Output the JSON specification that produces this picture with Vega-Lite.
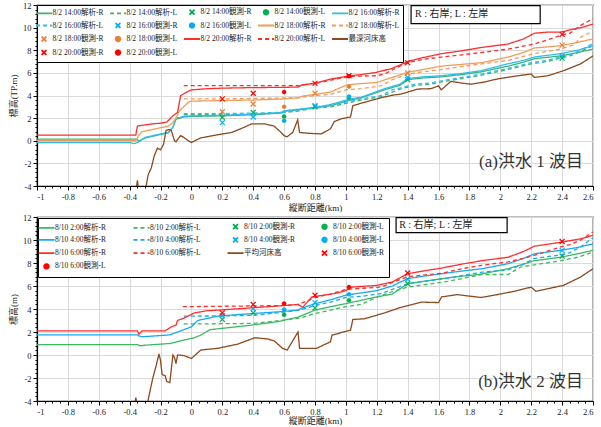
{
  "$schema": "https://vega.github.io/schema/vega-lite/v6.json",
  "background": "white",
  "padding": {"left": 8, "top": 0, "right": 8, "bottom": 0},
  "bounds": "flush",
  "spacing": 31,
  "config": {
    "font": "Liberation Serif, Noto Sans CJK JP",
    "view": {"stroke": "#000", "strokeWidth": 1.2},
    "axis": {
      "domainColor": "#000", "domainWidth": 1.2, "tickColor": "#000", "tickWidth": 1,
      "labelFont": "Liberation Serif, Noto Sans CJK JP", "labelFontSize": 8.5, "labelColor": "#222",
      "titleFont": "Liberation Serif, Noto Sans CJK JP", "titleFontSize": 9, "titleFontWeight": "normal", "titleColor": "#222",
      "gridColor": "#d9d9d9", "gridWidth": 1, "labelOverlap": false
    },
    "legend": {
      "labelFont": "Liberation Serif, Noto Sans CJK JP", "labelFontSize": 7.5, "labelColor": "#222",
      "strokeColor": "#000", "fillColor": "white", "padding": 2.5, "symbolStrokeWidth": 1.8, "symbolOpacity": 1,
      "direction": "horizontal"
    }
  },
  "datasets": {
    "a_lines": [
      {"series":"8/2 14:00解析-R","km":-1,"h":0.15},{"series":"8/2 14:00解析-R","km":-0.36,"h":0.15},{"series":"8/2 14:00解析-R","km":-0.34,"h":0.0},{"series":"8/2 14:00解析-R","km":-0.3,"h":0.25},{"series":"8/2 14:00解析-R","km":-0.25,"h":0.4},{"series":"8/2 14:00解析-R","km":-0.2,"h":0.55},{"series":"8/2 14:00解析-R","km":-0.15,"h":0.7},{"series":"8/2 14:00解析-R","km":-0.12,"h":1.2},{"series":"8/2 14:00解析-R","km":-0.1,"h":1.9},{"series":"8/2 14:00解析-R","km":-0.05,"h":2.1},{"series":"8/2 14:00解析-R","km":0,"h":2.15},{"series":"8/2 14:00解析-R","km":0.2,"h":2.2},{"series":"8/2 14:00解析-R","km":0.4,"h":2.3},{"series":"8/2 14:00解析-R","km":0.58,"h":2.45},{"series":"8/2 14:00解析-R","km":0.6,"h":2.6},{"series":"8/2 14:00解析-R","km":0.8,"h":2.9},{"series":"8/2 14:00解析-R","km":0.9,"h":3.1},{"series":"8/2 14:00解析-R","km":1.03,"h":3.6},{"series":"8/2 14:00解析-R","km":1.1,"h":3.8},{"series":"8/2 14:00解析-R","km":1.25,"h":4.5},{"series":"8/2 14:00解析-R","km":1.35,"h":4.9},{"series":"8/2 14:00解析-R","km":1.4,"h":5.4},{"series":"8/2 14:00解析-R","km":1.5,"h":5.55},{"series":"8/2 14:00解析-R","km":1.62,"h":5.65},{"series":"8/2 14:00解析-R","km":1.75,"h":5.85},{"series":"8/2 14:00解析-R","km":1.88,"h":6.1},{"series":"8/2 14:00解析-R","km":2.05,"h":6.6},{"series":"8/2 14:00解析-R","km":2.15,"h":6.95},{"series":"8/2 14:00解析-R","km":2.22,"h":7.25},{"series":"8/2 14:00解析-R","km":2.39,"h":7.5},{"series":"8/2 14:00解析-R","km":2.5,"h":7.8},{"series":"8/2 14:00解析-R","km":2.6,"h":8.1},

      {"series":"8/2 14:00解析-L","km":-0.05,"h":2.3},{"series":"8/2 14:00解析-L","km":0.2,"h":2.3},{"series":"8/2 14:00解析-L","km":0.4,"h":2.35},{"series":"8/2 14:00解析-L","km":0.58,"h":2.45},{"series":"8/2 14:00解析-L","km":0.7,"h":2.65},{"series":"8/2 14:00解析-L","km":0.8,"h":2.9},{"series":"8/2 14:00解析-L","km":0.9,"h":3.0},{"series":"8/2 14:00解析-L","km":1.0,"h":3.3},{"series":"8/2 14:00解析-L","km":1.1,"h":3.6},{"series":"8/2 14:00解析-L","km":1.23,"h":3.9},{"series":"8/2 14:00解析-L","km":1.3,"h":4.3},{"series":"8/2 14:00解析-L","km":1.36,"h":4.6},{"series":"8/2 14:00解析-L","km":1.45,"h":4.9},{"series":"8/2 14:00解析-L","km":1.55,"h":5.0},{"series":"8/2 14:00解析-L","km":1.62,"h":5.2},{"series":"8/2 14:00解析-L","km":1.75,"h":5.5},{"series":"8/2 14:00解析-L","km":1.88,"h":5.8},{"series":"8/2 14:00解析-L","km":2.05,"h":6.3},{"series":"8/2 14:00解析-L","km":2.2,"h":6.8},{"series":"8/2 14:00解析-L","km":2.3,"h":7.0},{"series":"8/2 14:00解析-L","km":2.39,"h":7.3},{"series":"8/2 14:00解析-L","km":2.45,"h":7.5},{"series":"8/2 14:00解析-L","km":2.52,"h":7.9},{"series":"8/2 14:00解析-L","km":2.6,"h":8.4},

      {"series":"8/2 16:00解析-R","km":-1,"h":-0.17},{"series":"8/2 16:00解析-R","km":-0.4,"h":-0.17},{"series":"8/2 16:00解析-R","km":-0.37,"h":-0.25},{"series":"8/2 16:00解析-R","km":-0.34,"h":-0.1},{"series":"8/2 16:00解析-R","km":-0.3,"h":0.3},{"series":"8/2 16:00解析-R","km":-0.25,"h":0.45},{"series":"8/2 16:00解析-R","km":-0.2,"h":0.6},{"series":"8/2 16:00解析-R","km":-0.15,"h":0.75},{"series":"8/2 16:00解析-R","km":-0.12,"h":1.2},{"series":"8/2 16:00解析-R","km":-0.1,"h":2.0},{"series":"8/2 16:00解析-R","km":-0.05,"h":2.15},{"series":"8/2 16:00解析-R","km":0,"h":2.2},{"series":"8/2 16:00解析-R","km":0.2,"h":2.25},{"series":"8/2 16:00解析-R","km":0.4,"h":2.35},{"series":"8/2 16:00解析-R","km":0.58,"h":2.5},{"series":"8/2 16:00解析-R","km":0.6,"h":2.65},{"series":"8/2 16:00解析-R","km":0.8,"h":2.95},{"series":"8/2 16:00解析-R","km":0.9,"h":3.2},{"series":"8/2 16:00解析-R","km":1.03,"h":3.7},{"series":"8/2 16:00解析-R","km":1.1,"h":3.85},{"series":"8/2 16:00解析-R","km":1.25,"h":4.6},{"series":"8/2 16:00解析-R","km":1.35,"h":5.0},{"series":"8/2 16:00解析-R","km":1.4,"h":5.5},{"series":"8/2 16:00解析-R","km":1.5,"h":5.65},{"series":"8/2 16:00解析-R","km":1.62,"h":5.75},{"series":"8/2 16:00解析-R","km":1.75,"h":5.95},{"series":"8/2 16:00解析-R","km":1.88,"h":6.2},{"series":"8/2 16:00解析-R","km":2.05,"h":6.8},{"series":"8/2 16:00解析-R","km":2.15,"h":7.1},{"series":"8/2 16:00解析-R","km":2.22,"h":7.4},{"series":"8/2 16:00解析-R","km":2.39,"h":7.7},{"series":"8/2 16:00解析-R","km":2.5,"h":8.0},{"series":"8/2 16:00解析-R","km":2.6,"h":8.4},

      {"series":"8/2 16:00解析-L","km":-0.05,"h":2.4},{"series":"8/2 16:00解析-L","km":0.2,"h":2.4},{"series":"8/2 16:00解析-L","km":0.4,"h":2.45},{"series":"8/2 16:00解析-L","km":0.58,"h":2.5},{"series":"8/2 16:00解析-L","km":0.7,"h":2.7},{"series":"8/2 16:00解析-L","km":0.8,"h":2.95},{"series":"8/2 16:00解析-L","km":0.9,"h":3.1},{"series":"8/2 16:00解析-L","km":1.0,"h":3.4},{"series":"8/2 16:00解析-L","km":1.1,"h":3.7},{"series":"8/2 16:00解析-L","km":1.23,"h":4.0},{"series":"8/2 16:00解析-L","km":1.3,"h":4.5},{"series":"8/2 16:00解析-L","km":1.36,"h":4.7},{"series":"8/2 16:00解析-L","km":1.45,"h":5.0},{"series":"8/2 16:00解析-L","km":1.55,"h":5.1},{"series":"8/2 16:00解析-L","km":1.62,"h":5.3},{"series":"8/2 16:00解析-L","km":1.75,"h":5.6},{"series":"8/2 16:00解析-L","km":1.88,"h":5.9},{"series":"8/2 16:00解析-L","km":2.05,"h":6.4},{"series":"8/2 16:00解析-L","km":2.2,"h":6.9},{"series":"8/2 16:00解析-L","km":2.3,"h":7.1},{"series":"8/2 16:00解析-L","km":2.39,"h":7.4},{"series":"8/2 16:00解析-L","km":2.45,"h":7.6},{"series":"8/2 16:00解析-L","km":2.52,"h":8.0},{"series":"8/2 16:00解析-L","km":2.6,"h":8.6},

      {"series":"8/2 18:00解析-R","km":-1,"h":0.0},{"series":"8/2 18:00解析-R","km":-0.36,"h":0.0},{"series":"8/2 18:00解析-R","km":-0.34,"h":0.5},{"series":"8/2 18:00解析-R","km":-0.32,"h":0.8},{"series":"8/2 18:00解析-R","km":-0.25,"h":1.0},{"series":"8/2 18:00解析-R","km":-0.2,"h":1.15},{"series":"8/2 18:00解析-R","km":-0.15,"h":1.3},{"series":"8/2 18:00解析-R","km":-0.12,"h":1.6},{"series":"8/2 18:00解析-R","km":-0.1,"h":2.0},{"series":"8/2 18:00解析-R","km":-0.08,"h":2.6},{"series":"8/2 18:00解析-R","km":-0.05,"h":3.0},{"series":"8/2 18:00解析-R","km":-0.02,"h":3.4},{"series":"8/2 18:00解析-R","km":0,"h":3.5},{"series":"8/2 18:00解析-R","km":0.2,"h":3.55},{"series":"8/2 18:00解析-R","km":0.4,"h":3.6},{"series":"8/2 18:00解析-R","km":0.6,"h":3.7},{"series":"8/2 18:00解析-R","km":0.69,"h":3.8},{"series":"8/2 18:00解析-R","km":0.72,"h":3.95},{"series":"8/2 18:00解析-R","km":0.8,"h":4.1},{"series":"8/2 18:00解析-R","km":0.9,"h":4.3},{"series":"8/2 18:00解析-R","km":1.0,"h":4.9},{"series":"8/2 18:00解析-R","km":1.05,"h":5.0},{"series":"8/2 18:00解析-R","km":1.2,"h":5.15},{"series":"8/2 18:00解析-R","km":1.3,"h":5.6},{"series":"8/2 18:00解析-R","km":1.4,"h":6.05},{"series":"8/2 18:00解析-R","km":1.5,"h":6.3},{"series":"8/2 18:00解析-R","km":1.62,"h":6.6},{"series":"8/2 18:00解析-R","km":1.75,"h":6.75},{"series":"8/2 18:00解析-R","km":1.88,"h":6.9},{"series":"8/2 18:00解析-R","km":2.05,"h":7.4},{"series":"8/2 18:00解析-R","km":2.15,"h":7.8},{"series":"8/2 18:00解析-R","km":2.22,"h":8.2},{"series":"8/2 18:00解析-R","km":2.39,"h":8.4},{"series":"8/2 18:00解析-R","km":2.5,"h":8.7},{"series":"8/2 18:00解析-R","km":2.6,"h":9.0},

      {"series":"8/2 18:00解析-L","km":-0.05,"h":3.7},{"series":"8/2 18:00解析-L","km":0.2,"h":3.7},{"series":"8/2 18:00解析-L","km":0.45,"h":3.75},{"series":"8/2 18:00解析-L","km":0.7,"h":3.8},{"series":"8/2 18:00解析-L","km":0.8,"h":4.0},{"series":"8/2 18:00解析-L","km":0.9,"h":4.1},{"series":"8/2 18:00解析-L","km":1.0,"h":4.5},{"series":"8/2 18:00解析-L","km":1.1,"h":4.6},{"series":"8/2 18:00解析-L","km":1.23,"h":4.87},{"series":"8/2 18:00解析-L","km":1.3,"h":5.4},{"series":"8/2 18:00解析-L","km":1.4,"h":5.9},{"series":"8/2 18:00解析-L","km":1.5,"h":6.1},{"series":"8/2 18:00解析-L","km":1.62,"h":6.3},{"series":"8/2 18:00解析-L","km":1.88,"h":6.8},{"series":"8/2 18:00解析-L","km":2.05,"h":7.1},{"series":"8/2 18:00解析-L","km":2.22,"h":7.7},{"series":"8/2 18:00解析-L","km":2.39,"h":8.1},{"series":"8/2 18:00解析-L","km":2.48,"h":8.5},{"series":"8/2 18:00解析-L","km":2.52,"h":9.15},{"series":"8/2 18:00解析-L","km":2.6,"h":9.7},

      {"series":"8/2 20:00解析-R","km":-1,"h":0.5},{"series":"8/2 20:00解析-R","km":-0.36,"h":0.5},{"series":"8/2 20:00解析-R","km":-0.35,"h":1.3},{"series":"8/2 20:00解析-R","km":-0.3,"h":1.4},{"series":"8/2 20:00解析-R","km":-0.25,"h":1.5},{"series":"8/2 20:00解析-R","km":-0.2,"h":1.55},{"series":"8/2 20:00解析-R","km":-0.16,"h":1.65},{"series":"8/2 20:00解析-R","km":-0.12,"h":2.2},{"series":"8/2 20:00解析-R","km":-0.09,"h":2.5},{"series":"8/2 20:00解析-R","km":-0.07,"h":4.0},{"series":"8/2 20:00解析-R","km":-0.03,"h":4.3},{"series":"8/2 20:00解析-R","km":0,"h":4.5},{"series":"8/2 20:00解析-R","km":0.1,"h":4.6},{"series":"8/2 20:00解析-R","km":0.2,"h":4.65},{"series":"8/2 20:00解析-R","km":0.4,"h":4.7},{"series":"8/2 20:00解析-R","km":0.6,"h":4.72},{"series":"8/2 20:00解析-R","km":0.69,"h":4.75},{"series":"8/2 20:00解析-R","km":0.72,"h":4.95},{"series":"8/2 20:00解析-R","km":0.8,"h":5.07},{"series":"8/2 20:00解析-R","km":0.9,"h":5.45},{"series":"8/2 20:00解析-R","km":1.03,"h":5.75},{"series":"8/2 20:00解析-R","km":1.1,"h":5.85},{"series":"8/2 20:00解析-R","km":1.2,"h":6.05},{"series":"8/2 20:00解析-R","km":1.3,"h":6.4},{"series":"8/2 20:00解析-R","km":1.4,"h":7.0},{"series":"8/2 20:00解析-R","km":1.5,"h":7.35},{"series":"8/2 20:00解析-R","km":1.62,"h":7.7},{"series":"8/2 20:00解析-R","km":1.75,"h":7.95},{"series":"8/2 20:00解析-R","km":1.88,"h":8.25},{"series":"8/2 20:00解析-R","km":2.05,"h":8.55},{"series":"8/2 20:00解析-R","km":2.15,"h":9.0},{"series":"8/2 20:00解析-R","km":2.22,"h":9.5},{"series":"8/2 20:00解析-R","km":2.3,"h":9.6},{"series":"8/2 20:00解析-R","km":2.39,"h":9.6},{"series":"8/2 20:00解析-R","km":2.45,"h":9.8},{"series":"8/2 20:00解析-R","km":2.52,"h":10.0},{"series":"8/2 20:00解析-R","km":2.6,"h":10.3},

      {"series":"8/2 20:00解析-L","km":-0.05,"h":4.87},{"series":"8/2 20:00解析-L","km":0.71,"h":4.87},{"series":"8/2 20:00解析-L","km":0.75,"h":5.0},{"series":"8/2 20:00解析-L","km":0.85,"h":5.2},{"series":"8/2 20:00解析-L","km":0.95,"h":5.5},{"series":"8/2 20:00解析-L","km":1.05,"h":5.7},{"series":"8/2 20:00解析-L","km":1.2,"h":5.75},{"series":"8/2 20:00解析-L","km":1.25,"h":5.9},{"series":"8/2 20:00解析-L","km":1.35,"h":6.6},{"series":"8/2 20:00解析-L","km":1.4,"h":6.9},{"series":"8/2 20:00解析-L","km":1.5,"h":7.2},{"series":"8/2 20:00解析-L","km":1.62,"h":7.4},{"series":"8/2 20:00解析-L","km":1.75,"h":7.6},{"series":"8/2 20:00解析-L","km":1.88,"h":7.8},{"series":"8/2 20:00解析-L","km":2.05,"h":8.1},{"series":"8/2 20:00解析-L","km":2.22,"h":8.55},{"series":"8/2 20:00解析-L","km":2.3,"h":8.9},{"series":"8/2 20:00解析-L","km":2.39,"h":9.3},{"series":"8/2 20:00解析-L","km":2.45,"h":9.5},{"series":"8/2 20:00解析-L","km":2.52,"h":10.2},{"series":"8/2 20:00解析-L","km":2.6,"h":10.8},

      {"series":"最深河床高","km":-0.36,"h":-4.5},{"series":"最深河床高","km":-0.35,"h":-3.5},{"series":"最深河床高","km":-0.34,"h":-4.5},{"series":"最深河床高","km":-0.3,"h":-4.5},{"series":"最深河床高","km":-0.28,"h":-3.0},{"series":"最深河床高","km":-0.26,"h":-2.4},{"series":"最深河床高","km":-0.24,"h":-1.3},{"series":"最深河床高","km":-0.22,"h":-0.65},{"series":"最深河床高","km":-0.2,"h":-0.8},{"series":"最深河床高","km":-0.18,"h":-0.3},{"series":"最深河床高","km":-0.165,"h":0.9},{"series":"最深河床高","km":-0.145,"h":1.0},{"series":"最深河床高","km":-0.13,"h":0.9},{"series":"最深河床高","km":-0.11,"h":0.0},{"series":"最深河床高","km":-0.1,"h":-0.1},{"series":"最深河床高","km":-0.085,"h":0.2},{"series":"最深河床高","km":-0.07,"h":0.45},{"series":"最深河床高","km":-0.05,"h":0.3},{"series":"最深河床高","km":-0.02,"h":0.0},{"series":"最深河床高","km":0,"h":-0.15},{"series":"最深河床高","km":0.06,"h":0.25},{"series":"最深河床高","km":0.17,"h":0.53},{"series":"最深河床高","km":0.26,"h":0.73},{"series":"最深河床高","km":0.34,"h":1.18},{"series":"最深河床高","km":0.39,"h":1.5},{"series":"最深河床高","km":0.47,"h":1.5},{"series":"最深河床高","km":0.535,"h":1.3},{"series":"最深河床高","km":0.58,"h":0.74},{"series":"最深河床高","km":0.6,"h":0.44},{"series":"最深河床高","km":0.62,"h":0.35},{"series":"最深河床高","km":0.656,"h":0.74},{"series":"最深河床高","km":0.688,"h":1.85},{"series":"最深河床高","km":0.7,"h":0.73},{"series":"最深河床高","km":0.77,"h":0.65},{"series":"最深河床高","km":0.84,"h":0.6},{"series":"最深河床高","km":0.9,"h":1.05},{"series":"最深河床高","km":0.925,"h":1.7},{"series":"最深河床高","km":0.97,"h":1.94},{"series":"最深河床高","km":1.03,"h":2.1},{"series":"最深河床高","km":1.045,"h":3.1},{"series":"最深河床高","km":1.12,"h":3.4},{"series":"最深河床高","km":1.2,"h":3.7},{"series":"最深河床高","km":1.29,"h":4.0},{"series":"最深河床高","km":1.357,"h":4.13},{"series":"最深河床高","km":1.466,"h":4.57},{"series":"最深河床高","km":1.55,"h":4.6},{"series":"最深河床高","km":1.6,"h":4.85},{"series":"最深河床高","km":1.617,"h":4.5},{"series":"最深河床高","km":1.68,"h":5.25},{"series":"最深河床高","km":1.75,"h":5.1},{"series":"最深河床高","km":1.81,"h":5.0},{"series":"最深河床高","km":1.9,"h":5.2},{"series":"最深河床高","km":1.98,"h":5.46},{"series":"最深河床高","km":2.09,"h":5.7},{"series":"最深河床高","km":2.2,"h":5.9},{"series":"最深河床高","km":2.22,"h":5.6},{"series":"最深河床高","km":2.31,"h":5.75},{"series":"最深河床高","km":2.41,"h":6.2},{"series":"最深河床高","km":2.52,"h":6.8},{"series":"最深河床高","km":2.6,"h":7.5}
    ],
    "a_obs": [
      {"series":"8/2 14:00観測-R","km":0.2,"h":2.06},{"series":"8/2 14:00観測-R","km":0.4,"h":2.5},{"series":"8/2 14:00観測-R","km":0.8,"h":3.0},{"series":"8/2 14:00観測-R","km":1.4,"h":5.4},{"series":"8/2 14:00観測-R","km":2.4,"h":7.3},
      {"series":"8/2 14:00観測-L","km":0.6,"h":2.15},{"series":"8/2 14:00観測-L","km":1.02,"h":3.8},
      {"series":"8/2 16:00観測-R","km":0.2,"h":1.6},{"series":"8/2 16:00観測-R","km":0.4,"h":2.1},{"series":"8/2 16:00観測-R","km":0.8,"h":3.1},{"series":"8/2 16:00観測-R","km":1.4,"h":5.6},{"series":"8/2 16:00観測-R","km":2.4,"h":7.5},
      {"series":"8/2 16:00観測-L","km":0.6,"h":1.77},{"series":"8/2 16:00観測-L","km":1.02,"h":3.9},
      {"series":"8/2 18:00観測-R","km":0.2,"h":2.57},{"series":"8/2 18:00観測-R","km":0.4,"h":3.25},{"series":"8/2 18:00観測-R","km":0.8,"h":4.2},{"series":"8/2 18:00観測-R","km":1.4,"h":6.0},{"series":"8/2 18:00観測-R","km":2.4,"h":8.45},
      {"series":"8/2 18:00観測-L","km":0.6,"h":3.0},{"series":"8/2 18:00観測-L","km":1.02,"h":4.8},
      {"series":"8/2 20:00観測-R","km":0.2,"h":3.7},{"series":"8/2 20:00観測-R","km":0.4,"h":4.2},{"series":"8/2 20:00観測-R","km":0.8,"h":5.07},{"series":"8/2 20:00観測-R","km":1.02,"h":5.75},{"series":"8/2 20:00観測-R","km":1.4,"h":6.9},{"series":"8/2 20:00観測-R","km":2.4,"h":9.4},
      {"series":"8/2 20:00観測-L","km":0.6,"h":4.3},{"series":"8/2 20:00観測-L","km":1.02,"h":5.7}
    ],
    "b_lines": [
      {"series":"8/10 2:00解析-R","km":-1,"h":0.9},{"series":"8/10 2:00解析-R","km":-0.35,"h":0.9},{"series":"8/10 2:00解析-R","km":-0.33,"h":0.8},{"series":"8/10 2:00解析-R","km":-0.3,"h":0.85},{"series":"8/10 2:00解析-R","km":-0.14,"h":1.0},{"series":"8/10 2:00解析-R","km":-0.05,"h":1.3},{"series":"8/10 2:00解析-R","km":0.02,"h":1.5},{"series":"8/10 2:00解析-R","km":0.06,"h":1.73},{"series":"8/10 2:00解析-R","km":0.12,"h":2.2},{"series":"8/10 2:00解析-R","km":0.39,"h":2.6},{"series":"8/10 2:00解析-R","km":0.56,"h":2.9},{"series":"8/10 2:00解析-R","km":0.69,"h":3.3},{"series":"8/10 2:00解析-R","km":0.8,"h":3.9},{"series":"8/10 2:00解析-R","km":0.9,"h":4.2},{"series":"8/10 2:00解析-R","km":1.0,"h":4.47},{"series":"8/10 2:00解析-R","km":1.2,"h":5.05},{"series":"8/10 2:00解析-R","km":1.3,"h":5.3},{"series":"8/10 2:00解析-R","km":1.4,"h":6.2},{"series":"8/10 2:00解析-R","km":1.5,"h":6.4},{"series":"8/10 2:00解析-R","km":1.62,"h":6.64},{"series":"8/10 2:00解析-R","km":1.75,"h":6.85},{"series":"8/10 2:00解析-R","km":1.86,"h":7.0},{"series":"8/10 2:00解析-R","km":2.05,"h":7.5},{"series":"8/10 2:00解析-R","km":2.15,"h":7.9},{"series":"8/10 2:00解析-R","km":2.22,"h":8.2},{"series":"8/10 2:00解析-R","km":2.39,"h":8.5},{"series":"8/10 2:00解析-R","km":2.5,"h":8.8},{"series":"8/10 2:00解析-R","km":2.6,"h":9.1},

      {"series":"8/10 2:00解析-L","km":-0.05,"h":2.7},{"series":"8/10 2:00解析-L","km":0.2,"h":2.72},{"series":"8/10 2:00解析-L","km":0.4,"h":2.75},{"series":"8/10 2:00解析-L","km":0.58,"h":3.0},{"series":"8/10 2:00解析-L","km":0.7,"h":3.2},{"series":"8/10 2:00解析-L","km":0.8,"h":3.6},{"series":"8/10 2:00解析-L","km":0.9,"h":3.9},{"series":"8/10 2:00解析-L","km":1.0,"h":4.2},{"series":"8/10 2:00解析-L","km":1.1,"h":4.4},{"series":"8/10 2:00解析-L","km":1.23,"h":5.2},{"series":"8/10 2:00解析-L","km":1.3,"h":5.5},{"series":"8/10 2:00解析-L","km":1.4,"h":5.9},{"series":"8/10 2:00解析-L","km":1.5,"h":6.1},{"series":"8/10 2:00解析-L","km":1.66,"h":6.4},{"series":"8/10 2:00解析-L","km":1.88,"h":7.0},{"series":"8/10 2:00解析-L","km":2.05,"h":7.0},{"series":"8/10 2:00解析-L","km":2.13,"h":7.65},{"series":"8/10 2:00解析-L","km":2.25,"h":7.9},{"series":"8/10 2:00解析-L","km":2.39,"h":8.2},{"series":"8/10 2:00解析-L","km":2.5,"h":8.5},{"series":"8/10 2:00解析-L","km":2.6,"h":8.95},

      {"series":"8/10 4:00解析-R","km":-1,"h":1.75},{"series":"8/10 4:00解析-R","km":-0.35,"h":1.75},{"series":"8/10 4:00解析-R","km":-0.34,"h":1.65},{"series":"8/10 4:00解析-R","km":-0.32,"h":1.6},{"series":"8/10 4:00解析-R","km":-0.3,"h":1.6},{"series":"8/10 4:00解析-R","km":-0.14,"h":1.75},{"series":"8/10 4:00解析-R","km":-0.07,"h":2.1},{"series":"8/10 4:00解析-R","km":0,"h":2.45},{"series":"8/10 4:00解析-R","km":0.04,"h":3.0},{"series":"8/10 4:00解析-R","km":0.17,"h":3.38},{"series":"8/10 4:00解析-R","km":0.39,"h":3.6},{"series":"8/10 4:00解析-R","km":0.56,"h":3.75},{"series":"8/10 4:00解析-R","km":0.69,"h":3.9},{"series":"8/10 4:00解析-R","km":0.72,"h":4.1},{"series":"8/10 4:00解析-R","km":0.8,"h":4.47},{"series":"8/10 4:00解析-R","km":0.9,"h":4.8},{"series":"8/10 4:00解析-R","km":1.0,"h":5.2},{"series":"8/10 4:00解析-R","km":1.2,"h":5.6},{"series":"8/10 4:00解析-R","km":1.3,"h":6.0},{"series":"8/10 4:00解析-R","km":1.4,"h":6.64},{"series":"8/10 4:00解析-R","km":1.5,"h":6.85},{"series":"8/10 4:00解析-R","km":1.62,"h":7.07},{"series":"8/10 4:00解析-R","km":1.75,"h":7.3},{"series":"8/10 4:00解析-R","km":1.88,"h":7.5},{"series":"8/10 4:00解析-R","km":2.05,"h":7.94},{"series":"8/10 4:00解析-R","km":2.15,"h":8.4},{"series":"8/10 4:00解析-R","km":2.22,"h":8.8},{"series":"8/10 4:00解析-R","km":2.39,"h":9.1},{"series":"8/10 4:00解析-R","km":2.5,"h":9.35},{"series":"8/10 4:00解析-R","km":2.6,"h":9.67},

      {"series":"8/10 4:00解析-L","km":-0.05,"h":3.38},{"series":"8/10 4:00解析-L","km":0.2,"h":3.4},{"series":"8/10 4:00解析-L","km":0.4,"h":3.45},{"series":"8/10 4:00解析-L","km":0.58,"h":3.7},{"series":"8/10 4:00解析-L","km":0.7,"h":3.9},{"series":"8/10 4:00解析-L","km":0.8,"h":4.3},{"series":"8/10 4:00解析-L","km":0.9,"h":4.6},{"series":"8/10 4:00解析-L","km":1.0,"h":5.0},{"series":"8/10 4:00解析-L","km":1.1,"h":5.1},{"series":"8/10 4:00解析-L","km":1.23,"h":5.35},{"series":"8/10 4:00解析-L","km":1.3,"h":5.7},{"series":"8/10 4:00解析-L","km":1.4,"h":6.2},{"series":"8/10 4:00解析-L","km":1.5,"h":6.4},{"series":"8/10 4:00解析-L","km":1.62,"h":6.6},{"series":"8/10 4:00解析-L","km":1.75,"h":6.9},{"series":"8/10 4:00解析-L","km":1.88,"h":7.2},{"series":"8/10 4:00解析-L","km":2.05,"h":7.4},{"series":"8/10 4:00解析-L","km":2.15,"h":7.9},{"series":"8/10 4:00解析-L","km":2.22,"h":8.4},{"series":"8/10 4:00解析-L","km":2.39,"h":8.7},{"series":"8/10 4:00解析-L","km":2.45,"h":8.9},{"series":"8/10 4:00解析-L","km":2.52,"h":9.4},{"series":"8/10 4:00解析-L","km":2.6,"h":10.2},

      {"series":"8/10 6:00解析-R","km":-1,"h":2.1},{"series":"8/10 6:00解析-R","km":-0.35,"h":2.1},{"series":"8/10 6:00解析-R","km":-0.34,"h":1.8},{"series":"8/10 6:00解析-R","km":-0.32,"h":2.1},{"series":"8/10 6:00解析-R","km":-0.17,"h":2.1},{"series":"8/10 6:00解析-R","km":-0.13,"h":2.45},{"series":"8/10 6:00解析-R","km":-0.1,"h":2.6},{"series":"8/10 6:00解析-R","km":-0.09,"h":3.0},{"series":"8/10 6:00解析-R","km":-0.05,"h":3.2},{"series":"8/10 6:00解析-R","km":-0.02,"h":3.4},{"series":"8/10 6:00解析-R","km":0.02,"h":3.66},{"series":"8/10 6:00解析-R","km":0.1,"h":3.85},{"series":"8/10 6:00解析-R","km":0.17,"h":3.9},{"series":"8/10 6:00解析-R","km":0.39,"h":4.1},{"series":"8/10 6:00解析-R","km":0.6,"h":4.3},{"series":"8/10 6:00解析-R","km":0.69,"h":4.4},{"series":"8/10 6:00解析-R","km":0.72,"h":4.15},{"series":"8/10 6:00解析-R","km":0.78,"h":5.05},{"series":"8/10 6:00解析-R","km":0.93,"h":5.35},{"series":"8/10 6:00解析-R","km":1.0,"h":5.6},{"series":"8/10 6:00解析-R","km":1.03,"h":5.9},{"series":"8/10 6:00解析-R","km":1.2,"h":6.05},{"series":"8/10 6:00解析-R","km":1.3,"h":6.35},{"series":"8/10 6:00解析-R","km":1.4,"h":7.07},{"series":"8/10 6:00解析-R","km":1.5,"h":7.3},{"series":"8/10 6:00解析-R","km":1.62,"h":7.56},{"series":"8/10 6:00解析-R","km":1.75,"h":7.9},{"series":"8/10 6:00解析-R","km":1.88,"h":8.2},{"series":"8/10 6:00解析-R","km":2.05,"h":8.5},{"series":"8/10 6:00解析-R","km":2.15,"h":9.0},{"series":"8/10 6:00解析-R","km":2.22,"h":9.46},{"series":"8/10 6:00解析-R","km":2.39,"h":9.8},{"series":"8/10 6:00解析-R","km":2.52,"h":10.1},{"series":"8/10 6:00解析-R","km":2.6,"h":10.4},

      {"series":"8/10 6:00解析-L","km":-0.056,"h":4.2},{"series":"8/10 6:00解析-L","km":0.3,"h":4.25},{"series":"8/10 6:00解析-L","km":0.58,"h":4.3},{"series":"8/10 6:00解析-L","km":0.69,"h":4.4},{"series":"8/10 6:00解析-L","km":0.75,"h":4.7},{"series":"8/10 6:00解析-L","km":0.8,"h":5.0},{"series":"8/10 6:00解析-L","km":0.9,"h":5.3},{"series":"8/10 6:00解析-L","km":1.0,"h":5.7},{"series":"8/10 6:00解析-L","km":1.1,"h":5.8},{"series":"8/10 6:00解析-L","km":1.23,"h":5.9},{"series":"8/10 6:00解析-L","km":1.3,"h":6.3},{"series":"8/10 6:00解析-L","km":1.4,"h":6.8},{"series":"8/10 6:00解析-L","km":1.5,"h":6.95},{"series":"8/10 6:00解析-L","km":1.62,"h":7.1},{"series":"8/10 6:00解析-L","km":1.75,"h":7.5},{"series":"8/10 6:00解析-L","km":1.88,"h":7.8},{"series":"8/10 6:00解析-L","km":2.05,"h":8.1},{"series":"8/10 6:00解析-L","km":2.15,"h":8.4},{"series":"8/10 6:00解析-L","km":2.22,"h":8.66},{"series":"8/10 6:00解析-L","km":2.39,"h":9.4},{"series":"8/10 6:00解析-L","km":2.45,"h":9.6},{"series":"8/10 6:00解析-L","km":2.52,"h":10.0},{"series":"8/10 6:00解析-L","km":2.6,"h":10.7},

      {"series":"平均河床高","km":-0.37,"h":-4.5},{"series":"平均河床高","km":-0.36,"h":-3.7},{"series":"平均河床高","km":-0.35,"h":-4.5},{"series":"平均河床高","km":-0.29,"h":-4.5},{"series":"平均河床高","km":-0.25,"h":-2.0},{"series":"平均河床高","km":-0.23,"h":-1.0},{"series":"平均河床高","km":-0.21,"h":0.1},{"series":"平均河床高","km":-0.2,"h":-0.5},{"series":"平均河床高","km":-0.19,"h":-1.7},{"series":"平均河床高","km":-0.17,"h":-1.8},{"series":"平均河床高","km":-0.16,"h":-2.3},{"series":"平均河床高","km":-0.14,"h":-2.4},{"series":"平均河床高","km":-0.12,"h":0.0},{"series":"平均河床高","km":-0.11,"h":-0.2},{"series":"平均河床高","km":-0.1,"h":-0.75},{"series":"平均河床高","km":-0.09,"h":0.0},{"series":"平均河床高","km":-0.05,"h":-0.05},{"series":"平均河床高","km":0,"h":-0.3},{"series":"平均河床高","km":0.06,"h":0.43},{"series":"平均河床高","km":0.17,"h":0.58},{"series":"平均河床高","km":0.3,"h":0.95},{"series":"平均河床高","km":0.41,"h":1.5},{"series":"平均河床高","km":0.49,"h":1.4},{"series":"平均河床高","km":0.535,"h":1.24},{"series":"平均河床高","km":0.59,"h":0.58},{"series":"平均河床高","km":0.62,"h":0.43},{"series":"平均河床高","km":0.69,"h":2.0},{"series":"平均河床高","km":0.7,"h":0.58},{"series":"平均河床高","km":0.81,"h":0.58},{"series":"平均河床高","km":0.9,"h":1.15},{"series":"平均河床高","km":0.91,"h":1.73},{"series":"平均河床高","km":1.03,"h":2.16},{"series":"平均河床高","km":1.045,"h":3.09},{"series":"平均河床高","km":1.12,"h":3.15},{"series":"平均河床高","km":1.25,"h":3.66},{"series":"平均河床高","km":1.357,"h":4.15},{"series":"平均河床高","km":1.49,"h":4.6},{"series":"平均河床高","km":1.6,"h":4.56},{"series":"平均河床高","km":1.62,"h":5.05},{"series":"平均河床高","km":1.72,"h":5.25},{"series":"平均河床高","km":1.876,"h":5.0},{"series":"平均河床高","km":1.96,"h":5.2},{"series":"平均河床高","km":2.09,"h":5.54},{"series":"平均河床高","km":2.2,"h":5.9},{"series":"平均河床高","km":2.23,"h":5.54},{"series":"平均河床高","km":2.41,"h":6.06},{"series":"平均河床高","km":2.52,"h":6.78},{"series":"平均河床高","km":2.6,"h":7.5}
    ],
    "b_obs": [
      {"series":"8/10 2:00観測-R","km":0.2,"h":3.1},{"series":"8/10 2:00観測-R","km":0.4,"h":3.66},{"series":"8/10 2:00観測-R","km":0.8,"h":4.1},{"series":"8/10 2:00観測-R","km":1.4,"h":6.2},{"series":"8/10 2:00観測-R","km":2.4,"h":8.6},
      {"series":"8/10 2:00観測-L","km":0.6,"h":3.5},{"series":"8/10 2:00観測-L","km":1.02,"h":4.76},
      {"series":"8/10 4:00観測-R","km":0.2,"h":3.43},{"series":"8/10 4:00観測-R","km":0.4,"h":4.04},{"series":"8/10 4:00観測-R","km":0.8,"h":4.56},{"series":"8/10 4:00観測-R","km":1.4,"h":6.6},{"series":"8/10 4:00観測-R","km":2.4,"h":9.1},
      {"series":"8/10 4:00観測-L","km":0.6,"h":3.95},{"series":"8/10 4:00観測-L","km":1.02,"h":5.28},
      {"series":"8/10 6:00観測-R","km":0.2,"h":3.66},{"series":"8/10 6:00観測-R","km":0.4,"h":4.39},{"series":"8/10 6:00観測-R","km":0.8,"h":5.2},{"series":"8/10 6:00観測-R","km":1.4,"h":7.13},{"series":"8/10 6:00観測-R","km":2.4,"h":9.87},
      {"series":"8/10 6:00観測-L","km":0.6,"h":4.47},{"series":"8/10 6:00観測-L","km":1.02,"h":5.9}
    ]
  },
  "vconcat": [
    {
      "width": 556,
      "height": 181,
      "layer": [
        {
          "data": {"name": "a_lines"},
          "mark": {"type": "line", "strokeWidth": 1.3, "clip": true},
          "encoding": {
            "x": {
              "field": "km", "type": "quantitative", "title": "縦断距離(km)",
              "scale": {"domain": [-1, 2.6], "nice": false, "zero": false},
              "axis": {
                "values": [-1,-0.95,-0.9,-0.85,-0.8,-0.75,-0.7,-0.65,-0.6,-0.55,-0.5,-0.45,-0.4,-0.35,-0.3,-0.25,-0.2,-0.15,-0.1,-0.05,0,0.05,0.1,0.15,0.2,0.25,0.3,0.35,0.4,0.45,0.5,0.55,0.6,0.65,0.7,0.75,0.8,0.85,0.9,0.95,1,1.05,1.1,1.15,1.2,1.25,1.3,1.35,1.4,1.45,1.5,1.55,1.6,1.65,1.7,1.75,1.8,1.85,1.9,1.95,2,2.05,2.1,2.15,2.2,2.25,2.3,2.35,2.4,2.45,2.5,2.55,2.6],
                "tickCount": 500,
                "labelExpr": "abs(datum.value*5-round(datum.value*5))<0.001 ? replace(format(datum.value,'~g'),'−','-') : ''",
                "tickSize": {"condition": {"test": "abs(datum.value*5-round(datum.value*5))<0.001", "value": 4}, "value": 2},
                "gridOpacity": {"condition": {"test": "abs(datum.value*5-round(datum.value*5))<0.001", "value": 1}, "value": 0},
                "labelOverlap": false, "labelPadding": 2, "titlePadding": 3
              }
            },
            "y": {
              "field": "h", "type": "quantitative", "title": "標高(TP.m)",
              "scale": {"domain": [-4, 12], "nice": false, "zero": false},
              "axis": {
                "values": [-4,-3.6,-3.2,-2.8,-2.4,-2,-1.6,-1.2,-0.8,-0.4,0,0.4,0.8,1.2,1.6,2,2.4,2.8,3.2,3.6,4,4.4,4.8,5.2,5.6,6,6.4,6.8,7.2,7.6,8,8.4,8.8,9.2,9.6,10,10.4,10.8,11.2,11.6,12],
                "tickCount": 500,
                "labelExpr": "abs(datum.value/2-round(datum.value/2))<0.001 ? replace(format(datum.value,'~g'),'−','-') : ''",
                "tickSize": {"condition": {"test": "abs(datum.value/2-round(datum.value/2))<0.001", "value": 4}, "value": 2},
                "gridOpacity": {"condition": {"test": "abs(datum.value/2-round(datum.value/2))<0.001", "value": 1}, "value": 0},
                "labelOverlap": false, "labelPadding": 2, "titlePadding": 4
              }
            },
            "color": {
              "field": "series", "type": "nominal",
              "scale": {
                "domain": ["8/2 14:00解析-R","8/2 14:00解析-L","8/2 14:00観測-R","8/2 14:00観測-L","8/2 16:00解析-R","8/2 16:00解析-L","8/2 16:00観測-R","8/2 16:00観測-L","8/2 18:00解析-R","8/2 18:00解析-L","8/2 18:00観測-R","8/2 18:00観測-L","8/2 20:00解析-R","8/2 20:00解析-L","最深河床高","8/2 20:00観測-R","8/2 20:00観測-L"],
                "range": ["#3cb371","#3cb371","#00b050","#00b050","#2fbdf0","#2fbdf0","#00b0f0","#00b0f0","#f39c5a","#f39c5a","#ed7d31","#ed7d31","#ff2d2d","#ff2d2d","#8c4a1e","#ff0000","#ff0000"]
              },
              "legend": {"title": null, "orient": "top-left", "offset": 0, "direction": "horizontal", "columns": 5, "columnPadding": 1, "rowPadding": 0.5, "symbolSize": 50, "labelOffset": 4, "labelLimit": 300}
            },
            "strokeDash": {
              "field": "series", "type": "nominal",
              "scale": {
                "domain": ["8/2 14:00解析-R","8/2 14:00解析-L","8/2 14:00観測-R","8/2 14:00観測-L","8/2 16:00解析-R","8/2 16:00解析-L","8/2 16:00観測-R","8/2 16:00観測-L","8/2 18:00解析-R","8/2 18:00解析-L","8/2 18:00観測-R","8/2 18:00観測-L","8/2 20:00解析-R","8/2 20:00解析-L","最深河床高","8/2 20:00観測-R","8/2 20:00観測-L"],
                "range": [[1,0],[4,3],[1,0],[1,0],[1,0],[4,3],[1,0],[1,0],[1,0],[4,3],[1,0],[1,0],[1,0],[4,3],[1,0],[1,0],[1,0]]
              },
              "legend": {"title": null, "orient": "top-left", "offset": 0, "direction": "horizontal", "columns": 5, "columnPadding": 1, "rowPadding": 0.5, "symbolSize": 50, "labelOffset": 4, "labelLimit": 300}
            },
            "order": {"field": "km", "type": "quantitative"}
          }
        },
        {
          "data": {"name": "a_obs"},
          "transform": [{"filter": "indexof(datum.series,'観測-R')>=0"}],
          "mark": {"type": "point", "size": 50, "strokeWidth": 1.2, "filled": false, "opacity": 1},
          "encoding": {
            "x": {"field": "km", "type": "quantitative"},
            "y": {"field": "h", "type": "quantitative"},
            "color": {"field": "series", "type": "nominal"},
            "shape": {
              "field": "series", "type": "nominal",
              "scale": {
                "domain": ["8/2 14:00解析-R","8/2 14:00解析-L","8/2 14:00観測-R","8/2 14:00観測-L","8/2 16:00解析-R","8/2 16:00解析-L","8/2 16:00観測-R","8/2 16:00観測-L","8/2 18:00解析-R","8/2 18:00解析-L","8/2 18:00観測-R","8/2 18:00観測-L","8/2 20:00解析-R","8/2 20:00解析-L","最深河床高","8/2 20:00観測-R","8/2 20:00観測-L"],
                "range": ["M-2.26,0L2.26,0","M-2.26,0L2.26,0","M-0.7,-0.7L0.7,0.7M-0.7,0.7L0.7,-0.7","M-0.65,0A0.65,0.65 0 1,1 0.65,0A0.65,0.65 0 1,1 -0.65,0Z","M-2.26,0L2.26,0","M-2.26,0L2.26,0","M-0.7,-0.7L0.7,0.7M-0.7,0.7L0.7,-0.7","M-0.65,0A0.65,0.65 0 1,1 0.65,0A0.65,0.65 0 1,1 -0.65,0Z","M-2.26,0L2.26,0","M-2.26,0L2.26,0","M-0.7,-0.7L0.7,0.7M-0.7,0.7L0.7,-0.7","M-0.65,0A0.65,0.65 0 1,1 0.65,0A0.65,0.65 0 1,1 -0.65,0Z","M-2.26,0L2.26,0","M-2.26,0L2.26,0","M-2.26,0L2.26,0","M-0.7,-0.7L0.7,0.7M-0.7,0.7L0.7,-0.7","M-0.65,0A0.65,0.65 0 1,1 0.65,0A0.65,0.65 0 1,1 -0.65,0Z"]
              },
              "legend": {"title": null, "orient": "top-left", "offset": 0, "direction": "horizontal", "columns": 5, "columnPadding": 1, "rowPadding": 0.5, "symbolSize": 50, "labelOffset": 4, "labelLimit": 300}
            }
          }
        },
        {
          "data": {"name": "a_obs"},
          "transform": [{"filter": "indexof(datum.series,'観測-L')>=0"}],
          "mark": {"type": "point", "size": 50, "filled": true, "opacity": 1},
          "encoding": {
            "x": {"field": "km", "type": "quantitative"},
            "y": {"field": "h", "type": "quantitative"},
            "color": {"field": "series", "type": "nominal"},
            "shape": {"field": "series", "type": "nominal"}
          }
        },
        {
          "data": {"values": [{}]},
          "mark": {"type": "rect", "fill": "white", "stroke": "#000", "strokeWidth": 1.2},
          "encoding": {
            "x": {"datum": 1.422, "type": "quantitative"},
            "x2": {"datum": 2.258},
            "y": {"datum": 11.95, "type": "quantitative"},
            "y2": {"datum": 10.35}
          }
        },
        {
          "data": {"values": [{}]},
          "mark": {"type": "text", "text": "R : 右岸; L : 左岸", "align": "left", "baseline": "middle", "fontSize": 10, "color": "#222"},
          "encoding": {
            "x": {"datum": 1.448, "type": "quantitative"},
            "y": {"datum": 11.2, "type": "quantitative"}
          }
        },
        {
          "data": {"values": [{}]},
          "mark": {"type": "text", "text": "(a)洪水 1 波目", "align": "right", "baseline": "middle", "fontSize": 17, "color": "#333"},
          "encoding": {
            "x": {"datum": 2.535, "type": "quantitative"},
            "y": {"datum": -1.86, "type": "quantitative"}
          }
        }
      ]
    },
    {
      "width": 556,
      "height": 184,
      "layer": [
        {
          "data": {"name": "b_lines"},
          "mark": {"type": "line", "strokeWidth": 1.3, "clip": true},
          "encoding": {
            "x": {
              "field": "km", "type": "quantitative", "title": "縦断距離(km)",
              "scale": {"domain": [-1, 2.6], "nice": false, "zero": false},
              "axis": {
                "values": [-1,-0.95,-0.9,-0.85,-0.8,-0.75,-0.7,-0.65,-0.6,-0.55,-0.5,-0.45,-0.4,-0.35,-0.3,-0.25,-0.2,-0.15,-0.1,-0.05,0,0.05,0.1,0.15,0.2,0.25,0.3,0.35,0.4,0.45,0.5,0.55,0.6,0.65,0.7,0.75,0.8,0.85,0.9,0.95,1,1.05,1.1,1.15,1.2,1.25,1.3,1.35,1.4,1.45,1.5,1.55,1.6,1.65,1.7,1.75,1.8,1.85,1.9,1.95,2,2.05,2.1,2.15,2.2,2.25,2.3,2.35,2.4,2.45,2.5,2.55,2.6],
                "tickCount": 500,
                "labelExpr": "abs(datum.value*5-round(datum.value*5))<0.001 ? replace(format(datum.value,'~g'),'−','-') : ''",
                "tickSize": {"condition": {"test": "abs(datum.value*5-round(datum.value*5))<0.001", "value": 4}, "value": 2},
                "gridOpacity": {"condition": {"test": "abs(datum.value*5-round(datum.value*5))<0.001", "value": 1}, "value": 0},
                "labelOverlap": false, "labelPadding": 2, "titlePadding": 1
              }
            },
            "y": {
              "field": "h", "type": "quantitative", "title": "標高(m)",
              "scale": {"domain": [-4, 12], "nice": false, "zero": false},
              "axis": {
                "values": [-4,-3.6,-3.2,-2.8,-2.4,-2,-1.6,-1.2,-0.8,-0.4,0,0.4,0.8,1.2,1.6,2,2.4,2.8,3.2,3.6,4,4.4,4.8,5.2,5.6,6,6.4,6.8,7.2,7.6,8,8.4,8.8,9.2,9.6,10,10.4,10.8,11.2,11.6,12],
                "tickCount": 500,
                "labelExpr": "abs(datum.value/2-round(datum.value/2))<0.001 ? replace(format(datum.value,'~g'),'−','-') : ''",
                "tickSize": {"condition": {"test": "abs(datum.value/2-round(datum.value/2))<0.001", "value": 4}, "value": 2},
                "gridOpacity": {"condition": {"test": "abs(datum.value/2-round(datum.value/2))<0.001", "value": 1}, "value": 0},
                "labelOverlap": false, "labelPadding": 2, "titlePadding": 4
              }
            },
            "color": {
              "field": "series", "type": "nominal",
              "scale": {
                "domain": ["8/10 2:00解析-R","8/10 2:00解析-L","8/10 2:00観測-R","8/10 2:00観測-L","8/10 4:00解析-R","8/10 4:00解析-L","8/10 4:00観測-R","8/10 4:00観測-L","8/10 6:00解析-R","8/10 6:00解析-L","平均河床高","8/10 6:00観測-R","8/10 6:00観測-L"],
                "range": ["#3cba63","#3cba63","#00b050","#00b050","#14aaf0","#14aaf0","#00b0f0","#00b0f0","#ff2d2d","#ff2d2d","#8c4a1e","#ff0000","#ff0000"]
              },
              "legend": {"title": null, "orient": "top-left", "offset": 1, "direction": "horizontal", "columns": 4, "columnPadding": 22, "rowPadding": 0.3, "symbolSize": 50, "labelOffset": 4, "labelLimit": 300, "padding": 4}
            },
            "strokeDash": {
              "field": "series", "type": "nominal",
              "scale": {
                "domain": ["8/10 2:00解析-R","8/10 2:00解析-L","8/10 2:00観測-R","8/10 2:00観測-L","8/10 4:00解析-R","8/10 4:00解析-L","8/10 4:00観測-R","8/10 4:00観測-L","8/10 6:00解析-R","8/10 6:00解析-L","平均河床高","8/10 6:00観測-R","8/10 6:00観測-L"],
                "range": [[1,0],[4,3],[1,0],[1,0],[1,0],[4,3],[1,0],[1,0],[1,0],[4,3],[1,0],[1,0],[1,0]]
              },
              "legend": {"title": null, "orient": "top-left", "offset": 1, "direction": "horizontal", "columns": 4, "columnPadding": 22, "rowPadding": 0.3, "symbolSize": 50, "labelOffset": 4, "labelLimit": 300, "padding": 4}
            },
            "order": {"field": "km", "type": "quantitative"}
          }
        },
        {
          "data": {"name": "b_obs"},
          "transform": [{"filter": "indexof(datum.series,'観測-R')>=0"}],
          "mark": {"type": "point", "size": 50, "strokeWidth": 1.2, "filled": false, "opacity": 1},
          "encoding": {
            "x": {"field": "km", "type": "quantitative"},
            "y": {"field": "h", "type": "quantitative"},
            "color": {"field": "series", "type": "nominal"},
            "shape": {
              "field": "series", "type": "nominal",
              "scale": {
                "domain": ["8/10 2:00解析-R","8/10 2:00解析-L","8/10 2:00観測-R","8/10 2:00観測-L","8/10 4:00解析-R","8/10 4:00解析-L","8/10 4:00観測-R","8/10 4:00観測-L","8/10 6:00解析-R","8/10 6:00解析-L","平均河床高","8/10 6:00観測-R","8/10 6:00観測-L"],
                "range": ["M-2.26,0L2.26,0","M-2.26,0L2.26,0","M-0.7,-0.7L0.7,0.7M-0.7,0.7L0.7,-0.7","M-0.65,0A0.65,0.65 0 1,1 0.65,0A0.65,0.65 0 1,1 -0.65,0Z","M-2.26,0L2.26,0","M-2.26,0L2.26,0","M-0.7,-0.7L0.7,0.7M-0.7,0.7L0.7,-0.7","M-0.65,0A0.65,0.65 0 1,1 0.65,0A0.65,0.65 0 1,1 -0.65,0Z","M-2.26,0L2.26,0","M-2.26,0L2.26,0","M-2.26,0L2.26,0","M-0.7,-0.7L0.7,0.7M-0.7,0.7L0.7,-0.7","M-0.65,0A0.65,0.65 0 1,1 0.65,0A0.65,0.65 0 1,1 -0.65,0Z"]
              },
              "legend": {"title": null, "orient": "top-left", "offset": 1, "direction": "horizontal", "columns": 4, "columnPadding": 22, "rowPadding": 0.3, "symbolSize": 50, "labelOffset": 4, "labelLimit": 300, "padding": 4}
            }
          }
        },
        {
          "data": {"name": "b_obs"},
          "transform": [{"filter": "indexof(datum.series,'観測-L')>=0"}],
          "mark": {"type": "point", "size": 50, "filled": true, "opacity": 1},
          "encoding": {
            "x": {"field": "km", "type": "quantitative"},
            "y": {"field": "h", "type": "quantitative"},
            "color": {"field": "series", "type": "nominal"},
            "shape": {"field": "series", "type": "nominal"}
          }
        },
        {
          "data": {"values": [{}]},
          "mark": {"type": "rect", "fill": "white", "stroke": "#000", "strokeWidth": 1.2},
          "encoding": {
            "x": {"datum": 1.325, "type": "quantitative"},
            "x2": {"datum": 2.044},
            "y": {"datum": 11.95, "type": "quantitative"},
            "y2": {"datum": 10.65}
          }
        },
        {
          "data": {"values": [{}]},
          "mark": {"type": "text", "text": "R : 右岸; L : 左岸", "align": "left", "baseline": "middle", "fontSize": 10, "color": "#222"},
          "encoding": {
            "x": {"datum": 1.345, "type": "quantitative"},
            "y": {"datum": 11.34, "type": "quantitative"}
          }
        },
        {
          "data": {"values": [{}]},
          "mark": {"type": "text", "text": "(b)洪水 2 波目", "align": "right", "baseline": "middle", "fontSize": 17, "color": "#333"},
          "encoding": {
            "x": {"datum": 2.535, "type": "quantitative"},
            "y": {"datum": -2.31, "type": "quantitative"}
          }
        }
      ]
    }
  ],
  "resolve": {"scale": {"color": "independent", "shape": "independent", "strokeDash": "independent"}, "legend": {"color": "independent", "shape": "independent", "strokeDash": "independent"}}
}
